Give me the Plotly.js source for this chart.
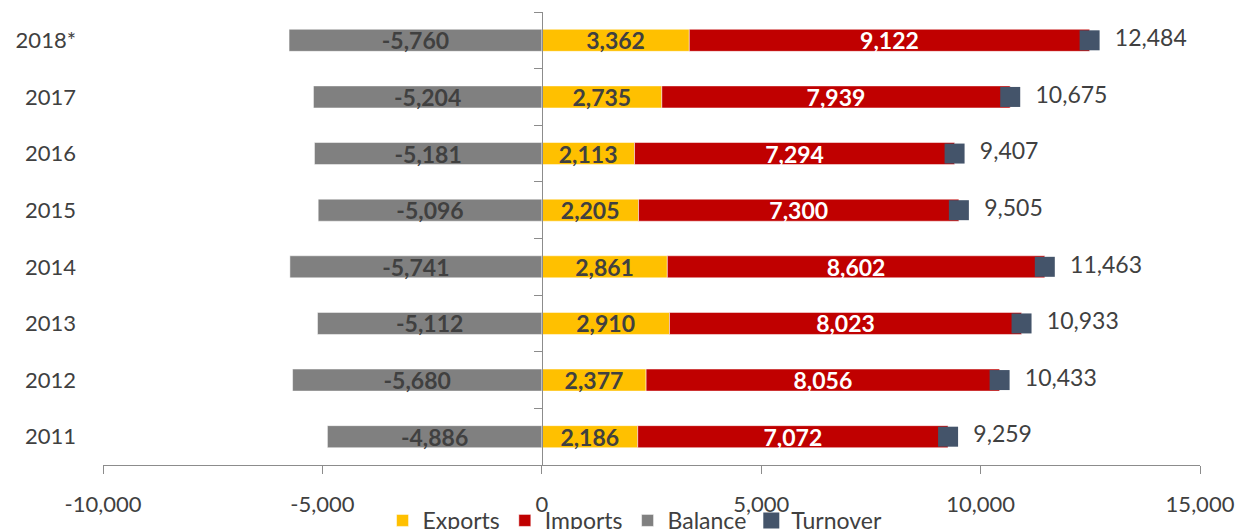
<!DOCTYPE html>
<html>
<head>
<meta charset="utf-8">
<script src="https://cdn.plot.ly/plotly-3.0.1.min.js"></script>
<style>html,body{margin:0;padding:0;background:#fff;}#chart{width:1241px;height:529px;}</style>
</head>
<body>
<div id="chart"></div>
<script>
var years = ['2011', '2012', '2013', '2014', '2015', '2016', '2017', '2018*'];
var exportsVals = [2186, 2377, 2910, 2861, 2205, 2113, 2735, 3362];
var importsVals = [7072, 8056, 8023, 8602, 7300, 7294, 7939, 9122];
var balanceVals = [-4886, -5680, -5112, -5741, -5096, -5181, -5204, -5760];
var turnoverVals = [9259, 10433, 10933, 11463, 9505, 9407, 10675, 12484];
var xTickVals = [-10000, -5000, 0, 5000, 10000, 15000];
var xTickText = ['-10,000', '-5,000', '0', '5,000', '10,000', '15,000'];

function fmt(v) { return (v < 0 ? '-' : '') + Math.abs(v).toLocaleString('en-US'); }

var FONT = 'Lato, "Open Sans", sans-serif';
var DARK = '#404040';

var barCommon = {
  type: 'bar', orientation: 'h', textposition: 'inside', insidetextanchor: 'middle',
  constraintext: 'none', textangle: 0, hoverinfo: 'skip', cliponaxis: false
};

var traces = [
  Object.assign({}, barCommon, {
    name: 'Exports', x: exportsVals, y: years, text: exportsVals.map(fmt),
    marker: {color: '#FFC000', line: {color: 'rgba(255,255,255,0.5)', width: 1}},
    insidetextfont: {family: FONT, size: 23, color: DARK, weight: 'bold'}
  }),
  Object.assign({}, barCommon, {
    name: 'Imports', x: importsVals, y: years, text: importsVals.map(fmt),
    marker: {color: '#C00000', line: {color: 'rgba(255,255,255,0.5)', width: 1}},
    insidetextfont: {family: FONT, size: 23, color: '#FFFFFF', weight: 'bold'}
  }),
  Object.assign({}, barCommon, {
    name: 'Balance', x: balanceVals, y: years, text: balanceVals.map(fmt),
    marker: {color: '#808080', line: {color: 'rgba(255,255,255,0.5)', width: 1}},
    insidetextfont: {family: FONT, size: 23, color: DARK, weight: 'bold'}
  }),
  {
    type: 'scatter', mode: 'markers+text', name: 'Turnover',
    x: turnoverVals, y: years, yaxis: 'y2',
    text: turnoverVals.map(function(v){ return '  ' + fmt(v); }),
    textposition: 'middle right',
    textfont: {family: FONT, size: 23, color: DARK},
    marker: {symbol: 'square', size: 20, color: '#44546A'},
    hoverinfo: 'skip', cliponaxis: false
  }
];

var layout = {
  width: 1241, height: 529,
  margin: {l: 103, r: 41, t: 12, b: 64, autoexpand: false},
  paper_bgcolor: '#fff', plot_bgcolor: '#fff',
  barmode: 'relative', bargap: 0.61,
  font: {family: FONT, size: 20, color: DARK},
  showlegend: true,
  legend: {
    orientation: 'h', x: 0.485, xanchor: 'center', y: -0.075, yanchor: 'top',
    font: {family: FONT, size: 23, color: DARK}, itemwidth: 30,
    traceorder: 'normal', bgcolor: 'rgba(0,0,0,0)'
  },
  xaxis: {
    range: [-10000, 15000], tickvals: xTickVals, ticktext: xTickText,
    showgrid: false, zeroline: false, showline: true, linecolor: '#8C8C8C', linewidth: 1,
    ticks: 'outside', ticklen: 8, tickcolor: '#8C8C8C', ticklabelstandoff: 12,
    tickfont: {family: FONT, size: 22, color: DARK}, fixedrange: true
  },
  yaxis: {
    type: 'category', categoryorder: 'array', categoryarray: years, range: [-0.5, 7.5],
    showgrid: false, zeroline: false, showline: false, ticks: '',
    ticklabelstandoff: 26, tickfont: {family: FONT, size: 22, color: DARK}, fixedrange: true
  },
  yaxis2: {
    type: 'category', categoryorder: 'array', categoryarray: years, range: [-0.5, 7.5],
    overlaying: 'y', anchor: 'free', position: 0.4, side: 'left',
    showgrid: false, zeroline: false, showline: true, linecolor: '#8C8C8C', linewidth: 1,
    ticks: 'outside', tickson: 'boundaries', ticklen: 8, tickcolor: '#8C8C8C',
    showticklabels: false, fixedrange: true
  }
};

Plotly.newPlot('chart', traces, layout, {displayModeBar: false, staticPlot: true});
</script>
</body>
</html>
